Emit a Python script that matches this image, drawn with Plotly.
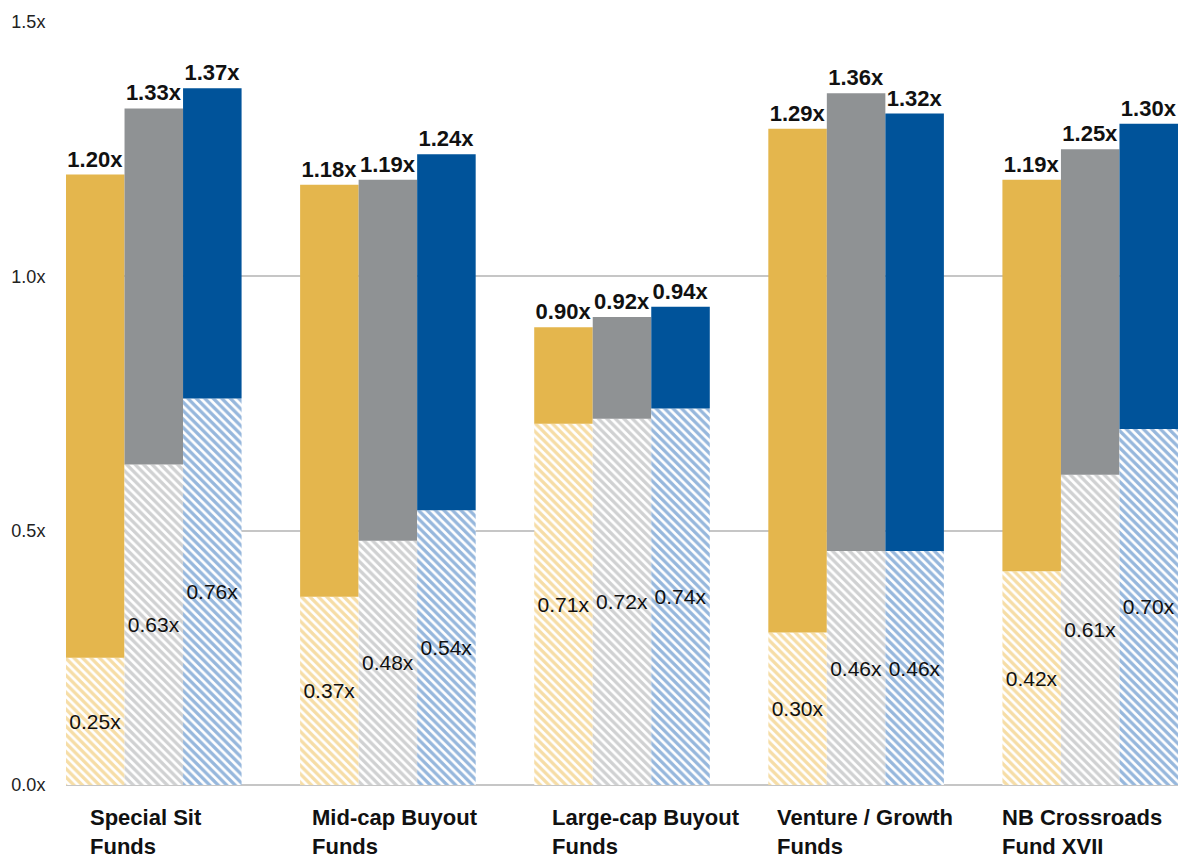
import plotly.graph_objects as go

categories = ["Special Sit<br>Funds", "Mid-cap Buyout<br>Funds", "Large-cap Buyout<br>Funds",
              "Venture / Growth<br>Funds", "NB Crossroads<br>Fund XVII"]
cat_keys = ["c1", "c2", "c3", "c4", "c5"]

gold_low = [0.25, 0.37, 0.71, 0.30, 0.42]
gold_total = [1.20, 1.18, 0.90, 1.29, 1.19]
gray_low = [0.63, 0.48, 0.72, 0.46, 0.61]
gray_total = [1.33, 1.19, 0.92, 1.36, 1.25]
blue_low = [0.76, 0.54, 0.74, 0.46, 0.70]
blue_total = [1.37, 1.24, 0.94, 1.32, 1.30]

series = [
    ("gold", gold_low, gold_total, "#E4B64D", "#EDBB4E"),
    ("gray", gray_low, gray_total, "#8F9294", "#A2A4A6"),
    ("blue", blue_low, blue_total, "#00539A", "#2E6FBA"),
]

FONT = "Liberation Sans, Arial, sans-serif"

fig = go.Figure()
for name, low, total, solid, hatch in series:
    fig.add_trace(go.Bar(
        x=cat_keys, y=low, offsetgroup=name, name=name + " low",
        marker=dict(color="white", line=dict(width=0),
                    pattern=dict(shape="\\", fgcolor=hatch, bgcolor="white",
                                 size=6, solidity=0.55, fillmode="overlay")),
        text=[f"{v:.2f}x" for v in low], textposition="inside",
        insidetextanchor="middle", textangle=0, constraintext="none",
        textfont=dict(family=FONT, size=21, color="#111111"),
        cliponaxis=False,
    ))
    fig.add_trace(go.Bar(
        x=cat_keys, y=[t - l for t, l in zip(total, low)], base=low,
        offsetgroup=name, name=name,
        marker=dict(color=solid, line=dict(width=0)),
        text=[f"<b>{v:.2f}x</b>" for v in total], textposition="outside",
        textangle=0, constraintext="none",
        textfont=dict(family=FONT, size=22, color="#111111"),
        cliponaxis=False,
    ))

label_shift = [-66, -78, -72, -81, -90]
for key, lab, dx in zip(cat_keys, categories, label_shift):
    fig.add_annotation(x=key, y=0, yref="paper", xanchor="left", yanchor="top",
                       xshift=dx, yshift=-18, text=f"<b>{lab}</b>", showarrow=False,
                       align="left", font=dict(family=FONT, size=22, color="#111111"))

fig.update_layout(
    width=1179, height=855,
    barmode="group", bargap=0.25, bargroupgap=0,
    showlegend=False,
    plot_bgcolor="white", paper_bgcolor="white",
    margin=dict(l=58, r=9, t=14, b=78),
    font=dict(family=FONT),
)
fig.update_xaxes(showticklabels=False, showgrid=False, showline=False,
                 range=[-0.375, 4.375])
fig.update_yaxes(range=[0, 1.5], tickvals=[0, 0.5, 1.0, 1.5],
                 ticktext=["0.0x", "0.5x", "1.0x", "1.5x"],
                 showgrid=True, gridcolor="#C6C6C6", gridwidth=2,
                 zeroline=True, zerolinecolor="#C6C6C6", zerolinewidth=2,
                 ticks="outside", ticklen=16, tickcolor="white", automargin=False,
                 tickfont=dict(family=FONT, size=18, color="#222222"))

fig.write_html("out.html")
